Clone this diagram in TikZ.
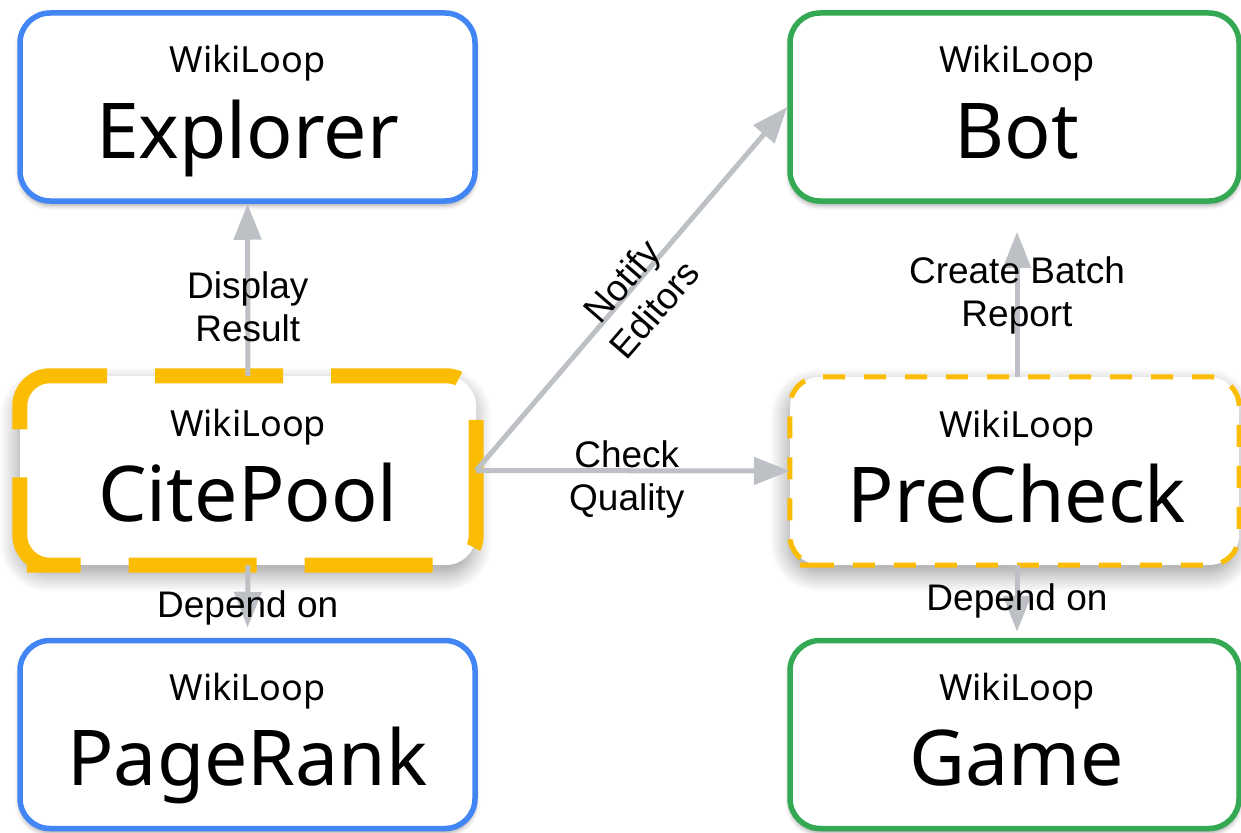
\documentclass[tikz,border=0pt]{standalone}
\usepackage{fontspec}
\setmainfont{Noto Sans}
\newfontfamily\lblfont{Liberation Sans}
\usetikzlibrary{arrows.meta,calc,shadows.blur}
\definecolor{gblue}{HTML}{4285F4}
\definecolor{ggreen}{HTML}{34A853}
\definecolor{gyellow}{HTML}{FBBC04}
\definecolor{ggray}{HTML}{BDC1C6}
\begin{document}
\begin{tikzpicture}[x=1pt,y=-1pt,
  box/.style={rectangle, rounded corners=30pt, line width=5.5pt, fill=white,
    minimum width=455pt, minimum height=188pt, inner sep=0pt,
    blur shadow={shadow xshift=0pt, shadow yshift=-4pt, shadow blur radius=5pt, shadow opacity=40}},
  rbox/.style={box, minimum width=449pt},
  hibox/.style={rectangle, rounded corners=30pt, fill=white, draw=none, inner sep=0pt,
    blur shadow={shadow xshift=-2pt, shadow yshift=-9pt, shadow blur radius=18pt, shadow opacity=40, shadow blur steps=12}},
  citeborder/.style={draw=gyellow, line width=15pt, rounded corners=30pt, dash pattern=on 128pt off 48pt},
  preborder/.style={draw=gyellow, line width=5pt, rounded corners=30pt, dash pattern=on 22pt off 19pt},
  small/.style={font=\fontsize{36}{40}\selectfont, anchor=base, inner sep=0pt},
  big/.style={font=\fontsize{77}{80}\selectfont, anchor=base, inner sep=0pt},
  conn/.style={draw=ggray, line width=5pt, -{Triangle[length=36pt,width=27pt]}},
  lbl/.style={font=\lblfont\fontsize{37}{43}\selectfont, align=center, inner sep=0pt},
]
\useasboundingbox (0,0) rectangle (1241,832);

% boxes
\node[box, draw=gblue] (exp) at (247.5,107) {};
\node[rbox, draw=ggreen] (bot) at (1014.5,107) {};
\node[box, draw=gblue] (pr) at (247.5,734.5) {};
\node[rbox, draw=ggreen] (game) at (1014.5,734.5) {};
\node[hibox, minimum width=456pt, minimum height=189pt] (cite) at (248,470.5) {};
\draw[citeborder] ([xshift=37pt]cite.south west) -- (cite.south west) -- (cite.north west)
  -- (cite.north east) -- (cite.south east) -- cycle;
\node[hibox, minimum width=449pt, minimum height=188pt] (pre) at (1014.5,471) {};
\draw[preborder] ([xshift=40pt]pre.south west) -- (pre.south west) -- (pre.north west)
  -- (pre.north east) -- (pre.south east) -- cycle;

% titles
\node[small] (expa) at ($(exp)+(0,-34)$) {WikiLoop};
\node[big]   (expb) at ($(exp)+(0,51)$) {Explorer};
\node[small] (bota) at ($(bot)+(2.5,-34)$) {WikiLoop};
\node[big]   (botb) at ($(bot)+(2.5,51)$) {Bot};
\node[small] (cita) at ($(cite)+(0,-34)$) {WikiLoop};
\node[big]   (citb) at ($(cite)+(0,51)$) {CitePool};
\node[small] (prea) at ($(pre)+(2.5,-34)$) {WikiLoop};
\node[big]   (preb) at ($(pre)+(2.5,51)$) {PreCheck};
\node[small] (pra) at ($(pr)+(0,-34)$) {WikiLoop};
\node[big]   (prb) at ($(pr)+(0,51)$) {PageRank};
\node[small] (gama) at ($(game)+(2.5,-34)$) {WikiLoop};
\node[big]   (gamb) at ($(game)+(2.5,51)$) {Game};

% connectors
\draw[conn] (cite.north) -- (exp.south)
  node[lbl, pos=0.4] (l1) {Display\\Result};
\draw[conn, shorten >=10pt] (cite.south) -- (pr.north)
  node[lbl, pos=0.59] (l2) {Depend on};
\draw[conn] (cite.east) -- (pre.west)
  node[lbl, pos=0.48, yshift=-8.5pt] (l3) {Check\\Quality};
\draw[conn] (cite.east) -- (bot.west);
\node[lbl, rotate=49] (l4) at (638,295) {Notify\\Editors};
\draw[conn, shorten >=28pt] ([xshift=2.5pt]pre.north) -- ([xshift=2.5pt]bot.south)
  node[lbl, pos=0.47] (l5) {Create Batch\\Report};
\draw[conn, shorten >=6pt] ([xshift=2.5pt]pre.south) -- ([xshift=2.5pt]game.north)
  node[lbl, pos=0.49] (l6) {Depend on};
\end{tikzpicture}
\end{document}
